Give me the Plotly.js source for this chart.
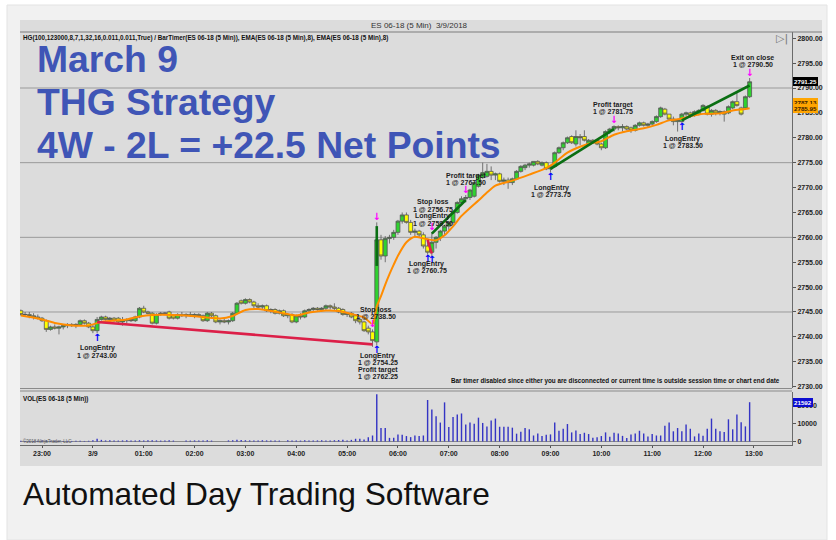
<!DOCTYPE html>
<html><head><meta charset="utf-8">
<script src="https://cdn.plot.ly/plotly-3.0.1.min.js"></script>
<style>html,body{margin:0;padding:0;background:#fff;}#chart{width:836px;height:540px;}</style>
</head><body><div id="chart"></div>
<script>
// ---------- DATA ----------
const chartTitle = 'ES 06-18 (5 Min)  3/9/2018';
const indicatorText = 'HG(100,123000,8,7,1,32,16,0.011,0.011,True) / BarTimer(ES 06-18 (5 Min)), EMA(ES 06-18 (5 Min),8), EMA(ES 06-18 (5 Min),8)';
const headline = ['March 9', 'THG Strategy', '4W - 2L = +22.5 Net Points'];
const caption = 'Automated Day Trading Software';
const barTimerText = 'Bar timer disabled since either you are disconnected or current time is outside session time or chart end date';
const volumeLabel = 'VOL(ES 06-18 (5 Min))';
const copyrightText = '\u00a92018 NinjaTrader, LLC';

// 5-minute bars from 22:35 (3/8) to 12:55 (3/9)
const firstBar = '2018-03-08 22:35';
const barMinutes = 5;
const opens = [
 2745.25,2744.5,2744.5,2744.25,2744,
 2743.75,2743.25,2741.5,2742,2741.75,2742,2742.25,2742.5,2742.25,2742.5,2743.25,2742.75,
 2742,2741.25,2743.5,2744,2743.5,2743.75,2743.75,2743,2743.25,2743.5,2743.25,2744,
 2745.75,2745,2744.75,2742.75,2744.5,2744.75,2745,2744.25,2743.75,2744.5,2744.25,2744.5,
 2744.25,2744.5,2744.25,2743.25,2744.75,2744.25,2743,2743.25,2743,2743.25,2744.75,2747.25,
 2746.75,2747.5,2747,2746.25,2746,2746.25,2745.25,2745.5,2744.75,2745.25,2744.25,2744.5,
 2743,2744.25,2744,2745.25,2745.5,2745.75,2745.5,2745.75,2746.25,2746,2745.75,2745.5,
 2744.5,2744.75,2744.25,2743.5,2743,2741.75,2741,2739,2759.5,2756.25,2759.75,2760,
 2761,2763.25,2764.5,2763,2761,2761.25,2760.5,2758.25,2757,2759,2760,2761.25,
 2762.25,2763,2765,2767,2767.75,2768,2768.25,2770.25,2772,2772.25,2773.25,2772.5,
 2772.75,2771.25,2771.5,2771,2771.75,2773.25,2774,2774.5,2774.5,2775.25,2774.5,2775,
 2773.75,2774.25,2777,2778,2779,2780.25,2778.75,2780.25,2780.25,2778.75,2779.5,2779.5,
 2778.75,2778,2781.25,2781.75,2782.25,2782,2782.25,2782,2781.5,2782.5,2783,2782.5,
 2782.75,2783.25,2784.25,2785.75,2784.75,2783.75,2783.25,2783.25,2784.75,2785,2784.5,2784.75,
 2785.5,2786.25,2784.75,2785.5,2785,2785.25,2785,2786,2787.25,2786,2786,2788.25
];
const highs = [
 2745.5,2745,2745,2744.75,2744.5,
 2744,2743.5,2742.25,2742.5,2742.25,2742.5,2742.75,2742.75,2742.75,2743.5,2743.5,2743,
 2742.5,2744,2744.25,2744.25,2744,2744,2744,2744,2743.75,2743.75,2744.25,2746,
 2746.25,2745.25,2745,2744.75,2745,2745,2745.25,2744.5,2744.75,2745,2744.75,2745,
 2744.75,2744.75,2744.5,2745,2745,2744.5,2743.5,2743.75,2743.5,2745,2747,2747.5,
 2747.75,2747.75,2747.25,2746.75,2746.5,2746.5,2745.75,2745.75,2745.5,2745.5,2744.75,2744.75,
 2744.5,2744.75,2745.5,2745.75,2746,2746,2746,2746.5,2746.5,2746.75,2746,2745.75,
 2745,2745,2744.5,2744,2743.25,2742.25,2741.5,2763,2760.5,2760.25,2760.5,2761.5,
 2763.5,2765,2765,2763.5,2761.75,2761.5,2761,2759.75,2761,2760.25,2761.5,2762.5,
 2763.25,2765.25,2767.25,2768.25,2768.5,2769.75,2771.25,2772.75,2775,2774.75,2774.25,2773,
 2773,2772,2772,2772,2773.5,2774.5,2774.75,2775,2775.25,2775.5,2775.25,2775.25,
 2774.5,2777.25,2778.25,2779.25,2780.25,2780.5,2781.5,2780.75,2781.5,2779.75,2779.75,2779.75,
 2779,2781.5,2782,2782.5,2782.5,2782.75,2782.5,2782.25,2782.75,2783.25,2783.25,2783,
 2783.5,2784.5,2786.25,2786,2784.75,2784.25,2783.75,2785,2785.25,2785.25,2785.5,2785.75,
 2786.75,2786.5,2785.75,2785.75,2785.5,2785.5,2786.5,2787.5,2789,2786.25,2788.5,2792
];
const lows = [
 2744.25,2744,2743.75,2743.5,2743.5,
 2743,2741,2741.25,2741.5,2740.5,2741.5,2741.75,2742,2741.75,2742.25,2742.5,2741.75,
 2740.75,2740.75,2743.25,2743.25,2743,2743,2742.75,2742.25,2742.75,2743,2743,2743.75,
 2744.75,2744.5,2742.5,2742.5,2744.25,2744.5,2743.5,2743.5,2743.5,2744,2743.75,2744,
 2743.75,2744,2743,2743,2744,2742.75,2742.5,2742.75,2742.5,2743,2744.5,2746.5,
 2746.5,2746.75,2745.75,2745.75,2745.5,2745,2744.75,2744.5,2744.5,2744,2743.75,2742.75,
 2742.75,2743.5,2743.75,2744.75,2745,2745.25,2745,2745.25,2745.5,2745.25,2744.75,2744.25,
 2744,2743.75,2742.75,2742.5,2741,2740.5,2738,2738.25,2755.5,2755,2758.75,2759.5,
 2760.5,2762.75,2762.75,2760.5,2760.25,2760,2757.75,2756.5,2756.25,2757.75,2759.25,2760.5,
 2761.5,2762.5,2764.75,2766.5,2767,2767.5,2768,2770,2771.75,2772,2771.5,2771.5,
 2771,2770.5,2769.75,2770.5,2771.5,2773,2773.5,2774,2774.25,2774.5,2774.25,2773.5,
 2773,2774,2776.75,2777.5,2778.75,2778.75,2778.25,2778.5,2779.25,2778.5,2778.75,2778.5,
 2777.5,2777.75,2780.75,2781.25,2781.5,2781.25,2781.5,2781,2781.25,2782.25,2782.25,2782,
 2782.5,2783,2784,2784.5,2783.5,2782.5,2781.25,2783,2784.25,2784,2784.25,2784.5,
 2785.25,2784.5,2784.25,2784.5,2784.5,2783.25,2784.75,2785.75,2786.25,2784.5,2785.75,2788
];
const closes = [
 2744.5,2744.5,2744.25,2744,2743.75,
 2743.25,2741.5,2742,2741.75,2742,2742.25,2742.5,2742.25,2742.5,2743.25,2742.75,2742,
 2741.25,2743.5,2744,2743.5,2743.75,2743.25,2743,2743.25,2743.5,2743.25,2744,2745.75,
 2745,2744.75,2742.75,2744.5,2744.75,2744.75,2743.75,2743.75,2744.5,2744.25,2744.5,2744.25,
 2744.5,2744.25,2743.25,2744.75,2744.25,2743,2743.25,2743,2743.25,2744.75,2746.75,2746.75,
 2747.5,2747,2746.25,2746,2746.25,2745.25,2745.5,2744.75,2745.25,2744.25,2744.5,2743,
 2744.25,2744,2745.25,2745.5,2745.75,2745.5,2745.75,2746.25,2746,2745.75,2745,2744.5,
 2744.75,2744,2743.25,2743,2741.25,2741,2739.25,2759.5,2756.25,2759.75,2760,2761,
 2763.25,2764.5,2763,2761,2761.25,2760.5,2758.25,2757,2759,2760,2761.25,2762.25,
 2763,2765,2767,2767.75,2768,2769.5,2771,2772.5,2773,2773.25,2772.5,2772.75,
 2771.25,2771.5,2771,2771.75,2773.25,2774.25,2774.5,2774.75,2775.25,2774.75,2775,2773.75,
 2774.25,2777,2778,2779,2780,2779,2780.25,2780,2779.5,2779.5,2779.25,2778.75,
 2778,2781.25,2781.75,2782.25,2782,2782.25,2781.75,2781.5,2782.5,2783,2782.5,2782.75,
 2783.25,2784.25,2786,2784.75,2783.75,2783.25,2783.5,2784.75,2785,2784.5,2785.25,2785.5,
 2786.5,2784.75,2785.5,2785,2785.25,2784.75,2786.25,2787.25,2786.5,2784.75,2788.25,2791.25
];
const volumes = [
 400,300,350,300,400,
 500,600,400,350,400,300,350,300,400,350,300,400,
 700,1500,900,600,700,600,500,600,700,600,500,700,
 600,700,700,600,500,600,700,500,0,0,600,500,
 600,500,600,700,500,0,0,0,600,700,900,800,
 700,600,600,500,700,600,500,600,500,0,700,600,
 600,500,700,600,500,600,700,500,600,700,800,900,
 600,900,1500,1500,1100,2400,3300,25900,7400,7400,2000,2000,
 3900,3700,3000,2400,3300,3000,3300,22800,17600,13900,10400,21500,
 8000,13500,14800,15400,9400,10400,9800,13100,10200,8300,11500,12600,
 8100,8100,8100,7600,4300,5400,7400,6700,3300,4400,3000,3700,
 3900,10400,5900,7000,9600,5000,6100,4100,4800,4100,2000,2400,
 3000,5000,2600,4800,4400,3100,1900,3900,4400,5900,4400,2800,
 4100,3300,3300,8700,10400,5600,7400,5600,9300,7000,2800,4400,
 3100,7000,12600,7000,5600,5200,12200,6700,14800,10600,8300,21592
];

// EMA(8) line
const emaTimes = ['2018-03-08 22:35','2018-03-08 22:55','2018-03-08 23:15','2018-03-08 23:35','2018-03-08 23:55',
 '2018-03-09 00:10','2018-03-09 00:40','2018-03-09 00:55','2018-03-09 01:10','2018-03-09 01:50','2018-03-09 02:30',
 '2018-03-09 02:45','2018-03-09 03:00','2018-03-09 03:15','2018-03-09 03:40','2018-03-09 04:00','2018-03-09 04:15',
 '2018-03-09 04:35','2018-03-09 04:50','2018-03-09 05:05','2018-03-09 05:20','2018-03-09 05:30','2018-03-09 05:35',
 '2018-03-09 05:40','2018-03-09 05:45','2018-03-09 05:50','2018-03-09 05:55','2018-03-09 06:00','2018-03-09 06:10',
 '2018-03-09 06:20','2018-03-09 06:35','2018-03-09 06:45','2018-03-09 06:55','2018-03-09 07:05','2018-03-09 07:15',
 '2018-03-09 07:25','2018-03-09 07:35','2018-03-09 07:45','2018-03-09 07:55','2018-03-09 08:15','2018-03-09 08:35',
 '2018-03-09 08:55','2018-03-09 09:05','2018-03-09 09:20','2018-03-09 09:35','2018-03-09 09:50','2018-03-09 10:00',
 '2018-03-09 10:15','2018-03-09 10:30','2018-03-09 10:50','2018-03-09 11:05','2018-03-09 11:20','2018-03-09 11:30',
 '2018-03-09 11:40','2018-03-09 12:00','2018-03-09 12:20','2018-03-09 12:35','2018-03-09 12:50','2018-03-09 12:55'];
const emaValues = [2744.3,2743.7,2742.8,2742.3,2742.3,
 2743.0,2743.5,2744.1,2744.4,2744.3,2743.7,
 2744.2,2745.4,2745.6,2744.9,2744.3,2744.9,
 2745.3,2745.2,2744.6,2743.9,2742.6,2746.1,
 2748.2,2750.5,2752.6,2754.5,2756.3,2759.0,
 2760.1,2759.6,2759.4,2760.4,2762.2,2764.3,
 2765.9,2767.4,2769.0,2770.4,2771.4,2772.6,
 2773.9,2775.0,2777.0,2778.2,2779.0,2779.3,
 2780.6,2781.3,2781.9,2782.6,2783.5,2783.7,
 2784.1,2784.8,2784.9,2785.5,2785.8,2785.95];

// Trades
const tradeEntryTimes  = ['2018-03-09 00:05','2018-03-09 05:35','2018-03-09 06:35','2018-03-09 06:40','2018-03-09 09:00','2018-03-09 11:35'];
const tradeEntryPrices = [2743.00, 2754.25, 2759.50, 2760.75, 2773.75, 2783.50];
const tradeExitTimes   = ['2018-03-09 05:30','2018-03-09 05:35','2018-03-09 06:40','2018-03-09 07:20','2018-03-09 10:15','2018-03-09 12:55'];
const tradeExitPrices  = [2738.50, 2762.25, 2756.75, 2767.50, 2781.75, 2790.50];
const tradeExitNames   = ['Stop loss','Profit target','Stop loss','Profit target','Profit target','Exit on close'];
const entryName = 'LongEntry';

// Axis ticks
const hourTicks = ['2018-03-08 23:00','2018-03-09 00:00','2018-03-09 01:00','2018-03-09 02:00','2018-03-09 03:00',
 '2018-03-09 04:00','2018-03-09 05:00','2018-03-09 06:00','2018-03-09 07:00','2018-03-09 08:00','2018-03-09 09:00',
 '2018-03-09 10:00','2018-03-09 11:00','2018-03-09 12:00','2018-03-09 13:00'];
const hourLabels = ['23:00','3/9','01:00','02:00','03:00','04:00','05:00','06:00','07:00','08:00','09:00','10:00','11:00','12:00','13:00'];
const priceGridLevels = [2745, 2760, 2775, 2790];
const volumeTicks = [0, 10000, 20000];
const lastPriceFlag = 2791.25;
const emaFlags = [2787.13, 2785.95];
const lastVolumeFlag = 21592;

// ---------- BUILD ----------
const W = 836, H = 540;
const px = v => v / W, py = v => 1 - v / H;
function addMinutes(str, m){
  const p = str.split(/[- :]/).map(Number);
  const d = new Date(Date.UTC(p[0], p[1]-1, p[2], p[3], p[4]) + m*60000);
  return d.toISOString().slice(0,16).replace('T',' ');
}
const times = opens.map((_, i) => addMinutes(firstBar, i * barMinutes));
const idx = t => times.indexOf(t);
const q = v => '1 @ ' + v.toFixed(2);

const smallFont = {family:'Liberation Sans, Arial, sans-serif', size:7, color:'#1c1c1c', weight:'bold'};

const traces = [];
traces.push({type:'candlestick', x:times, open:opens, high:highs, low:lows, close:closes,
  xaxis:'x', yaxis:'y', whiskerwidth:0, hoverinfo:'skip', showlegend:false,
  increasing:{line:{color:'#555555', width:0.8}, fillcolor:'#2fd22f'},
  decreasing:{line:{color:'#555555', width:0.8}, fillcolor:'#ffff00'}});
traces.push({type:'scatter', mode:'lines', x:emaTimes, y:emaValues, xaxis:'x', yaxis:'y',
  line:{color:'#ff8c00', width:2, shape:'spline', smoothing:0.7}, hoverinfo:'skip', showlegend:false});
tradeEntryTimes.forEach((t, i) => {
  const win = tradeExitPrices[i] > tradeEntryPrices[i];
  traces.push({type:'scatter', mode:'lines', x:[t, tradeExitTimes[i]], y:[tradeEntryPrices[i], tradeExitPrices[i]],
    xaxis:'x', yaxis:'y', line:{color: win ? '#0a6e12' : '#dc1f48', width:2.6}, hoverinfo:'skip', showlegend:false});
});
// entry / exit arrows
traces.push({type:'scatter', mode:'text', x:tradeEntryTimes, y:tradeEntryTimes.map(t => lows[idx(t)]),
  text:tradeEntryTimes.map(() => '\u2191'), textposition:'bottom center',
  textfont:{family:'DejaVu Sans', size:10, color:'#0000ff', weight:'bold'}, xaxis:'x', yaxis:'y', hoverinfo:'skip', showlegend:false});
traces.push({type:'scatter', mode:'text', x:tradeExitTimes, y:tradeExitTimes.map(t => highs[idx(t)]),
  text:tradeExitTimes.map(() => '\u2193'), textposition:'top center',
  textfont:{family:'DejaVu Sans', size:10, color:'#ff00ff', weight:'bold'}, xaxis:'x', yaxis:'y', hoverinfo:'skip', showlegend:false});
traces.push({type:'bar', x:times, y:volumes, xaxis:'x', yaxis:'y2', width:100000,
  marker:{color:'#3434c4', line:{width:0}}, hoverinfo:'skip', showlegend:false});

// ---------- ANNOTATIONS ----------
const ann = [];
function txt(x, y, text, font, xanchor, extra){
  ann.push(Object.assign({xref:'paper', yref:'paper', x:px(x), y:py(y), text:text, showarrow:false,
    xanchor:xanchor||'left', yanchor:'middle', font:font}, extra||{}));
}
txt(420, 25.5, chartTitle, {family:'Liberation Sans, Arial', size:8, color:'#333'}, 'center');
txt(21, 38, indicatorText, {family:'Liberation Sans, Arial', size:6.3, color:'#111', weight:'bold'}, 'left');
const blueFont = {family:'Liberation Sans, Arial, sans-serif', size:37.3, color:'#3f55b6', weight:'bold'};
[59.5, 102, 144.5].forEach((y, i) => txt(35, y, headline[i], blueFont, 'left'));
txt(782, 381, barTimerText, {family:'Liberation Sans, Arial', size:6.3, color:'#111', weight:'bold'}, 'right');
txt(21, 398.5, volumeLabel, {family:'Liberation Sans, Arial', size:6.3, color:'#111', weight:'bold'}, 'left');
txt(21, 441, copyrightText, {family:'Liberation Sans, Arial', size:4.5, color:'#555'}, 'left');
txt(782, 39, '\u25b7|', {family:'DejaVu Sans', size:11, color:'#777'}, 'center');
txt(21, 494, caption, {family:'Liberation Sans, Arial, sans-serif', size:31.7, color:'#111'}, 'left');

// trade labels: anchored to bar low/high, offsets are pixel layout
function label(t, anchor, lines, firstDy, dx){
  const i = idx(t);
  const yv = anchor === 'low' ? lows[i] : highs[i];
  lines.forEach((s, k) => ann.push({xref:'x', yref:'y', x:t, y:yv, text:s, showarrow:false,
    xanchor:'center', yanchor:'middle', yshift:-(firstDy + k*7), xshift:dx||0, font:smallFont}));
}
label(tradeEntryTimes[0], 'low', [entryName, q(tradeEntryPrices[0])], 15, 0);
label(tradeExitTimes[0], 'high', [tradeExitNames[0], q(tradeExitPrices[0])], -19.5, 3);
label(tradeEntryTimes[1], 'low', [entryName, q(tradeEntryPrices[1]), tradeExitNames[1], q(tradeExitPrices[1])], 10, 1);
label(tradeExitTimes[2], 'high', [tradeExitNames[2], q(tradeExitPrices[2]), entryName, q(tradeEntryPrices[2])], -30, 1);
label(tradeEntryTimes[3], 'low', [entryName, q(tradeEntryPrices[3])], 8, -5);
label(tradeExitTimes[3], 'high', [tradeExitNames[3], q(tradeExitPrices[3])], -19.5, 0);
label(tradeEntryTimes[4], 'low', [entryName, q(tradeEntryPrices[4])], 15, 1);
label(tradeExitTimes[4], 'high', [tradeExitNames[4], q(tradeExitPrices[4])], -20.5, -1);
label(tradeEntryTimes[5], 'low', [entryName, q(tradeEntryPrices[5])], 16, 1);
label(tradeExitTimes[5], 'high', [tradeExitNames[5], q(tradeExitPrices[5])], -21, 3);

// axis flags
function flag(yref, v, bg, fg, textv){
  ann.push({xref:'paper', yref:yref, x:px(793), y:v, text:textv, showarrow:false, xanchor:'left', yanchor:'middle',
    bgcolor:bg, bordercolor:bg, borderpad:0, font:{family:'Liberation Sans, Arial', size:6.2, color:fg, weight:'bold'}});
}
flag('y', lastPriceFlag, '#000000', '#ffffff', lastPriceFlag.toFixed(2));
emaFlags.forEach(v => flag('y', v, '#ffa500', '#3a2000', v.toFixed(2)));
flag('y2', lastVolumeFlag, '#0c0cd0', '#ffffff', String(lastVolumeFlag));

// ---------- SHAPES ----------
const shapes = [
  {type:'rect', xref:'paper', yref:'paper', x0:px(7), x1:px(827), y0:py(540), y1:py(5), fillcolor:'#f1f1f1', line:{color:'#e3e3e3', width:1}, layer:'below'},
  {type:'rect', xref:'paper', yref:'paper', x0:px(20), x1:px(822), y0:py(466), y1:py(20), fillcolor:'#dcdcdc', line:{width:0}, layer:'below'},
  {type:'line', xref:'paper', yref:'paper', x0:px(20), x1:px(822), y0:py(32), y1:py(32), line:{color:'#7d7d7d', width:1}},
  {type:'line', xref:'paper', yref:'paper', x0:px(20), x1:px(792), y0:py(388.5), y1:py(388.5), line:{color:'#8a8a8a', width:1}},
  {type:'line', xref:'paper', yref:'paper', x0:px(20), x1:px(792), y0:py(391), y1:py(391), line:{color:'#8a8a8a', width:1}},
];
priceGridLevels.forEach(v => shapes.push({type:'line', xref:'paper', yref:'y', x0:px(20), x1:px(792), y0:v, y1:v,
  line:{color:'#9a9a9a', width:1}, layer:'below'}));

const tickFont = {family:'Liberation Sans, Arial', size:7, color:'#222', weight:'bold'};
const layout = {
  width:W, height:H, margin:{l:0, r:0, t:0, b:0}, paper_bgcolor:'#ffffff', plot_bgcolor:'rgba(0,0,0,0)',
  showlegend:false, boxgap:0.08, boxgroupgap:0,
  xaxis:{type:'date', domain:[px(20), px(792)], anchor:'y2', range:['2018-03-08 22:34','2018-03-09 13:45'],
    tickvals:hourTicks, ticktext:hourLabels, ticks:'outside', ticklen:2, tickcolor:'#555', tickfont:tickFont,
    showline:true, linecolor:'#6a6a6a', linewidth:1, showgrid:false, zeroline:false, rangeslider:{visible:false}, fixedrange:true},
  yaxis:{domain:[py(388), py(32)], range:[2729.73, 2801.25], side:'right', anchor:'x', tick0:2730, dtick:5,
    tickformat:'.2f', ticks:'outside', ticklen:3, tickcolor:'#555', tickfont:tickFont, showline:true, linecolor:'#6a6a6a',
    showgrid:false, zeroline:false},
  yaxis2:{domain:[py(445), py(392)], range:[-1923, 27198], side:'right', anchor:'x', tickvals:volumeTicks,
    ticktext:volumeTicks.map(String), ticks:'outside', ticklen:3, tickcolor:'#555', tickfont:tickFont, showline:true,
    linecolor:'#6a6a6a', showgrid:false, zeroline:true, zerolinecolor:'#8a8a8a', zerolinewidth:1},
  annotations:ann, shapes:shapes
};
Plotly.newPlot('chart', traces, layout, {staticPlot:true, displayModeBar:false});
</script>
</body></html>
